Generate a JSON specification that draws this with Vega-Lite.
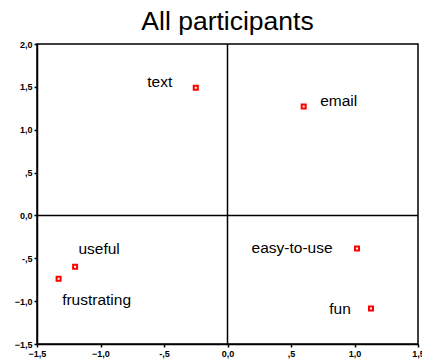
{
  "$schema": "https://vega.github.io/schema/vega-lite/v6.json",
  "autosize": "none",
  "padding": {"left": 37, "top": 44, "right": 4, "bottom": 17},
  "width": 381,
  "height": 300,
  "title": {"text": "All participants", "font": "Liberation Sans", "fontSize": 26.5, "fontWeight": "normal", "color": "#000", "offset": 5, "anchor": "middle"},
  "config": {
    "view": {"stroke": "#000", "strokeWidth": 1.5},
    "axis": {"grid": false, "domainColor": "#000", "domainWidth": 1.5, "tickColor": "#000", "tickSize": 3, "tickWidth": 1.5, "labelFont": "Liberation Sans", "labelFontSize": 9, "labelFontWeight": "bold", "labelColor": "#000", "title": null, "labelPadding": 2}
  },
  "data": {"values": [
    {"name": "text", "x": -0.25, "y": 1.49},
    {"name": "email", "x": 0.60, "y": 1.27},
    {"name": "useful", "x": -1.20, "y": -0.60},
    {"name": "frustrating", "x": -1.33, "y": -0.74},
    {"name": "easy-to-use", "x": 1.02, "y": -0.385},
    {"name": "fun", "x": 1.13, "y": -1.085}
  ]},
  "encoding": {
    "x": {"field": "x", "type": "quantitative", "scale": {"domain": [-1.5, 1.5], "nice": false, "zero": false},
      "axis": {"values": [-1.5, -1, -0.5, 0, 0.5, 1, 1.5], "labelExpr": "datum.value == 0.5 ? ',5' : datum.value == -0.5 ? '-,5' : replace(format(datum.value, '.1f'), '.', ',')", "labelFlush": false}},
    "y": {"field": "y", "type": "quantitative", "scale": {"domain": [-1.5, 2.0], "nice": false, "zero": false},
      "axis": {"values": [-1.5, -1, -0.5, 0, 0.5, 1, 1.5, 2], "labelExpr": "datum.value == 0.5 ? ',5' : datum.value == -0.5 ? '-,5' : replace(format(datum.value, '.1f'), '.', ',')", "labelFlush": false}}
  },
  "layer": [
    {"data": {"values": [{"v": 0}]}, "mark": {"type": "rule", "color": "#000", "strokeWidth": 1.5}, "encoding": {"x": {"field": "v", "type": "quantitative"}, "y": null}},
    {"data": {"values": [{"v": 0}]}, "mark": {"type": "rule", "color": "#000", "strokeWidth": 1.5}, "encoding": {"y": {"field": "v", "type": "quantitative"}, "x": null}},
    {"mark": {"type": "point", "shape": "square", "filled": false, "stroke": "#ff0000", "strokeWidth": 2, "size": 16, "opacity": 1}},
    {"transform": [{"filter": "datum.name == 'text'"}], "mark": {"type": "text", "font": "Liberation Sans", "fontSize": 15.5, "color": "#000", "align": "center", "dx": -36, "dy": -6}, "encoding": {"text": {"field": "name"}}},
    {"transform": [{"filter": "datum.name == 'email'"}], "mark": {"type": "text", "font": "Liberation Sans", "fontSize": 15.5, "color": "#000", "align": "center", "dx": 35, "dy": -6}, "encoding": {"text": {"field": "name"}}},
    {"transform": [{"filter": "datum.name == 'useful'"}], "mark": {"type": "text", "font": "Liberation Sans", "fontSize": 15.5, "color": "#000", "align": "center", "dx": 24, "dy": -18}, "encoding": {"text": {"field": "name"}}},
    {"transform": [{"filter": "datum.name == 'frustrating'"}], "mark": {"type": "text", "font": "Liberation Sans", "fontSize": 15.5, "color": "#000", "align": "center", "dx": 38, "dy": 21}, "encoding": {"text": {"field": "name"}}},
    {"transform": [{"filter": "datum.name == 'easy-to-use'"}], "mark": {"type": "text", "font": "Liberation Sans", "fontSize": 15.5, "color": "#000", "align": "center", "dx": -65, "dy": 0}, "encoding": {"text": {"field": "name"}}},
    {"transform": [{"filter": "datum.name == 'fun'"}], "mark": {"type": "text", "font": "Liberation Sans", "fontSize": 15.5, "color": "#000", "align": "center", "dx": -31, "dy": 1}, "encoding": {"text": {"field": "name"}}}
  ]
}
